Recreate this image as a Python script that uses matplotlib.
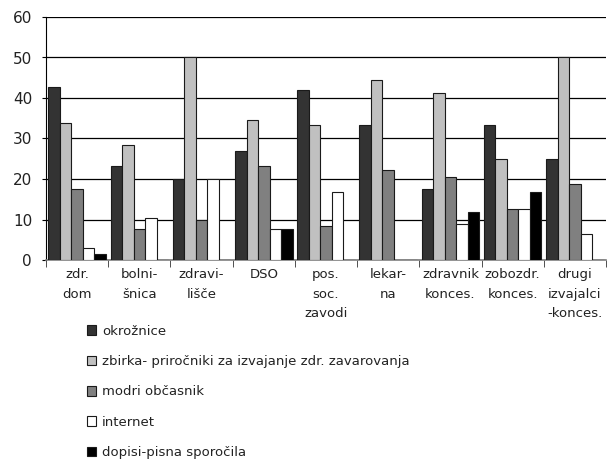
import matplotlib
matplotlib.use("Agg")
import matplotlib.pyplot as plt
import numpy as np

categories = ["zdr.\ndom", "bolni-\nšnica", "zdravi-\nlišče", "DSO", "pos.\nsoc.\nzavodi",
              "lekar-\nna", "zdravnik\nkonces.", "zobozdr.\nkonces.", "drugi\nizvajalci\n-konces."]
series_names = ["okrožnice", "zbirka- priročniki za izvajanje zdr. zavarovanja",
                "modri občasnik", "internet", "dopisi-pisna sporočila"]
okroznice = [42.7, 23.1, 20.0, 27.0, 41.9, 33.3, 17.6, 33.3, 25.0]
zbirka    = [33.9, 28.3, 50.0, 34.6, 33.3, 44.4, 41.2, 25.0, 50.0]
modri     = [17.6, 7.7, 10.0, 23.1, 8.3, 22.2, 20.6, 12.5, 18.8]
internet  = [2.9, 10.3, 20.0, 7.7, 16.7, 0.0, 8.8, 12.5, 6.3]
dopisi    = [1.5, 0.0, 0.0, 7.7, 0.0, 0.0, 11.8, 16.7, 0.0]
yticks = [0, 10, 20, 30, 40, 50, 60]

colors = ["#333333", "#c0c0c0", "#808080", "#ffffff", "#000000"]
data = [okroznice, zbirka, modri, internet, dopisi]

plt.rcParams['font.family'] = ['DejaVu Sans']
fig = plt.figure(figsize=(6.08, 4.61), dpi=100)
ax = fig.add_axes([46/608, 1-260/461, 560/608, 243/461])

n = len(categories)
x = np.arange(n) + 0.5
w = 0.185
handles = []
for j, (vals, c, name) in enumerate(zip(data, colors, series_names)):
    b = ax.bar(x + (j - 2) * w, vals, width=w, color=c, edgecolor="#1a1a1a",
               linewidth=0.8, label=name, zorder=3)
    handles.append(b)

ax.set_xlim(0, n)
ax.set_ylim(0, 60)
ax.set_yticks(yticks)
ax.yaxis.grid(True, color="black", linewidth=0.9)
ax.set_axisbelow(True)
for s in ["top", "right"]:
    ax.spines[s].set_visible(False)
ax.spines["left"].set_color("black")
ax.spines["bottom"].set_color("#808080")
ax.spines["bottom"].set_linewidth(1.2)

ax.set_xticks(x)
ax.set_xticklabels(categories, fontsize=9.5, color="#222222", linespacing=1.65)
ax.tick_params(axis="x", which="major", length=0, pad=6)
ax.set_xticks(np.arange(n + 1), minor=True)
ax.tick_params(axis="x", which="minor", length=5, color="#333333", direction="out")
ax.tick_params(axis="y", length=3, pad=7, labelsize=11, labelcolor="#222222")

fig.legend(handles=handles, labels=series_names, loc="upper left",
           bbox_to_anchor=(80/608, 1-318/461), frameon=False, fontsize=9.5,
           handlelength=0.75, handleheight=0.75, handletextpad=0.4,
           labelspacing=1.32, borderpad=0, labelcolor="#222222")

fig.savefig("out.png", dpi=100)
